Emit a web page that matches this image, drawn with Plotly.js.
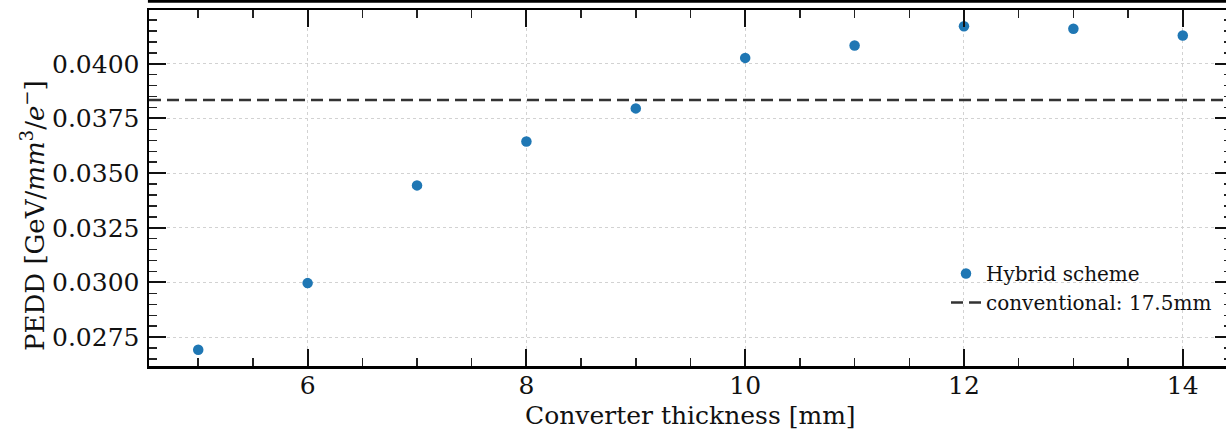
<!DOCTYPE html>
<html>
<head>
<meta charset="utf-8">
<script src="https://cdn.plot.ly/plotly-3.0.1.min.js"></script>
<style>
html, body { margin: 0; padding: 0; overflow: hidden; background: #fff; }
#chart { width: 1240px; height: 431px; }
</style>
</head>
<body>
<div id="chart"></div>
<script>
// Data
const thickness = [5, 6, 7, 8, 9, 10, 11, 12, 13, 14];               // Converter thickness [mm]
const pedd = [0.02692, 0.02997, 0.03444, 0.03645, 0.03796,
              0.04027, 0.04084, 0.04172, 0.04160, 0.04129];          // PEDD [GeV/mm^3/e-]
const seriesName = 'Hybrid scheme';
const conventionalName = 'conventional: 17.5mm';
const conventionalPEDD = 0.03834;
const xTitle = 'Converter thickness [mm]';
const yTitle = 'PEDD [GeV/<i>mm</i><sup>3</sup>/<i>e</i><sup>\u2212</sup>]';

const FONT = 'DejaVu Serif, Liberation Serif, serif';

const axisCommon = {
  showline: true, linecolor: '#000', linewidth: 2.5, mirror: 'allticks',
  ticks: 'inside', ticklen: 17, tickwidth: 2, tickcolor: '#111',
  showgrid: true, gridcolor: '#d2d2d2', gridwidth: 1, griddash: 'dot',
  zeroline: false,
  tickfont: {family: FONT, size: 25, color: '#111'}
};

const traces = [{
  type: 'scatter', mode: 'markers',
  x: thickness, y: pedd, name: seriesName,
  marker: {color: '#1f77b4', size: 10.5},
  legendrank: 1, cliponaxis: false
}];

const layout = {
  width: 1240, height: 431,
  margin: {l: 149, r: 8, t: 10, b: 65, pad: 0},
  paper_bgcolor: '#fff', plot_bgcolor: '#fff',
  font: {family: FONT, color: '#111'},
  showlegend: true,
  legend: {
    x: (946 - 149) / 1083, y: (366 - 254) / 356,
    xanchor: 'left', yanchor: 'top',
    bgcolor: 'rgba(0,0,0,0)', borderwidth: 0,
    font: {family: FONT, size: 20, color: '#111'},
    tracegroupgap: 0
  },
  xaxis: Object.assign({}, axisCommon, {
    range: [4.55, 14.45], tick0: 0, dtick: 2,
    minor: {dtick: 0.5, tick0: 0, ticks: 'inside', ticklen: 8, tickwidth: 1.5, tickcolor: '#222', showgrid: false},
    ticklabelstandoff: -5
  }),
  yaxis: Object.assign({}, axisCommon, {
    range: [0.02618, 0.04246], tick0: 0, dtick: 0.0025, tickformat: '.4f',
    minor: {dtick: 0.0005, tick0: 0, ticks: 'inside', ticklen: 8, tickwidth: 1.5, tickcolor: '#222', showgrid: false},
    ticklabelstandoff: 2
  }),
  shapes: [
    {
      type: 'line', xref: 'paper', yref: 'y', x0: 0, x1: 1,
      y0: conventionalPEDD, y1: conventionalPEDD,
      line: {color: '#333', width: 2.5, dash: '12px,6px'},
      showlegend: true, name: conventionalName, legendrank: 2, layer: 'above'
    },
    {
      // bottom edge of the figure's upper panel (cut off in the picture)
      type: 'line', xref: 'paper', yref: 'paper', x0: -0.001, x1: 1,
      y0: (366 - 1.3) / 356, y1: (366 - 1.3) / 356,
      line: {color: '#000', width: 2.7}
    }
  ],
  annotations: [
    {
      text: xTitle, xref: 'paper', yref: 'paper', x: 0.5, y: (366 - 415) / 356,
      xanchor: 'center', yanchor: 'middle', showarrow: false,
      font: {family: FONT, size: 25, color: '#111'}
    },
    {
      text: yTitle, xref: 'paper', yref: 'paper', x: (33 - 149) / 1083, y: (366 - 216) / 356,
      xanchor: 'center', yanchor: 'middle', showarrow: false, textangle: -90,
      font: {family: FONT, size: 26, color: '#111'}
    }
  ]
};

Plotly.newPlot('chart', traces, layout, {displayModeBar: false, staticPlot: true});
</script>
</body>
</html>
